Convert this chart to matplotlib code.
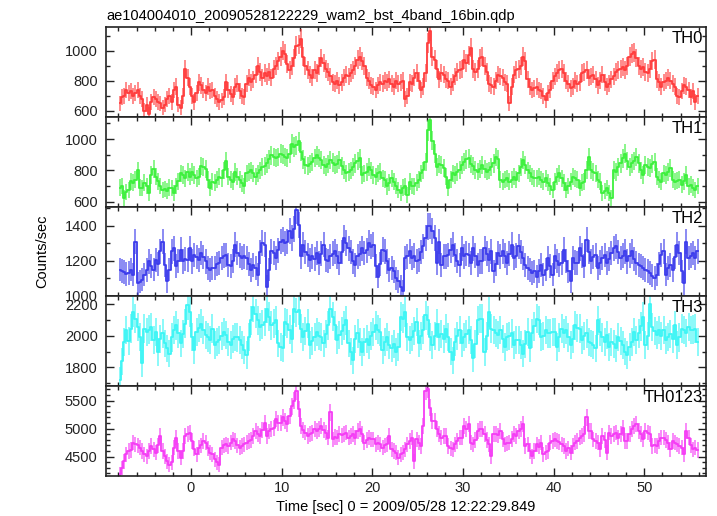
import numpy as np
import matplotlib
matplotlib.use("Agg")
import matplotlib.pyplot as plt
from matplotlib.ticker import MultipleLocator, FixedLocator

plt.rcParams['font.family'] = ['Liberation Sans', 'DejaVu Sans']

TITLE = "ae104004010_20090528122229_wam2_bst_4band_16bin.qdp"
XLABEL = "Time [sec] 0 = 2009/05/28 12:22:29.849"
YLABEL = "Counts/sec"
BANDS = ["TH0", "TH1", "TH2", "TH3", "TH0123"]
T_START = -7.875      # centre of first bin (s)
BIN = 0.25            # bin width (s)

th0 = [
    650, 690, 700, 740, 720, 730, 700, 720, 740, 700, 680, 600, 640, 580, 660, 690,
    680, 660, 650, 620, 640, 680, 700, 660, 740, 760, 640, 620, 700, 880, 820, 760,
    700, 660, 720, 790, 770, 740, 720, 760, 730, 740, 700, 680, 660, 670, 690, 790,
    740, 710, 690, 760, 780, 730, 700, 690, 780, 820, 790, 810, 840, 900, 860, 820,
    850, 830, 860, 820, 880, 900, 930, 960, 1000, 980, 910, 870, 900, 950, 1030, 1040,
    1080, 960, 900, 870, 840, 820, 870, 850, 900, 950, 920, 880, 860, 830, 790, 780,
    800, 770, 790, 820, 840, 830, 850, 870, 900, 940, 960, 930, 900, 820, 800, 770,
    760, 740, 770, 790, 780, 800, 790, 810, 780, 760, 800, 780, 790, 800, 680, 700,
    790, 780, 820, 850, 800, 740, 760, 850, 1050, 1130, 960, 940, 880, 810, 850, 840,
    810, 800, 760, 790, 830, 860, 870, 880, 940, 920, 970, 1020, 880, 860, 880, 950,
    960, 900, 860, 780, 770, 760, 800, 840, 830, 820, 790, 780, 650, 760, 840, 870,
    880, 900, 960, 930, 810, 760, 740, 750, 760, 740, 730, 700, 670, 720, 740, 800,
    830, 850, 870, 880, 850, 800, 780, 750, 760, 800, 780, 790, 850, 860, 870, 820,
    830, 840, 810, 770, 800, 840, 790, 760, 780, 810, 830, 860, 870, 880, 890, 870,
    900, 960, 980, 990, 950, 900, 880, 890, 860, 850, 880, 930, 940, 810, 790, 760,
    790, 800, 820, 800, 780, 760, 700, 690, 730, 770, 760, 740, 690, 730, 660, 700,
]

th1 = [
    690, 700, 625, 660, 676, 730, 720, 740, 800, 690, 686, 720, 700, 655, 770, 810,
    760, 730, 700, 676, 680, 670, 690, 686, 655, 700, 730, 780, 770, 750, 790, 760,
    790, 770, 750, 760, 830, 820, 810, 740, 690, 728, 720, 740, 760, 750, 800, 860,
    760, 740, 728, 790, 760, 740, 718, 700, 780, 790, 800, 780, 760, 781, 800, 823,
    830, 844, 870, 897, 886, 880, 886, 907, 900, 886, 880, 907, 970, 950, 960, 985,
    918, 870, 834, 830, 840, 855, 880, 897, 880, 865, 834, 820, 840, 865, 850, 834,
    840, 865, 830, 802, 781, 790, 800, 823, 844, 860, 876, 771, 780, 790, 823, 800,
    771, 760, 780, 792, 750, 740, 697, 720, 750, 728, 700, 676, 655, 690, 697, 640,
    728, 700, 697, 720, 740, 781, 800, 855, 1055, 1120, 990, 907, 823, 840, 834, 813,
    760, 686, 740, 781, 770, 790, 802, 834, 855, 870, 876, 840, 830, 802, 792, 810,
    834, 810, 792, 800, 823, 844, 886, 870, 739, 728, 740, 750, 728, 740, 760, 740,
    781, 820, 865, 834, 800, 781, 760, 750, 750, 760, 740, 728, 750, 720, 697, 676,
    728, 760, 781, 750, 720, 676, 700, 728, 760, 750, 740, 686, 720, 728, 802, 886,
    802, 790, 781, 740, 728, 655, 670, 686, 655, 623, 802, 790, 820, 844, 876, 907,
    860, 823, 844, 860, 886, 844, 800, 771, 834, 820, 813, 840, 855, 760, 740, 728,
    781, 771, 790, 813, 740, 728, 735, 740, 708, 730, 771, 697, 708, 690, 676, 700,
]

th2 = [
    1150, 1140, 1135, 1125, 1130, 1150, 1120, 1310, 1072, 1080, 1091, 1120, 1149, 1196, 1170, 1150,
    1206, 1180, 1253, 1310, 1177, 1082, 1150, 1253, 1272, 1168, 1200, 1263, 1196, 1210, 1206, 1272,
    1196, 1234, 1220, 1206, 1244, 1220, 1196, 1158, 1149, 1160, 1158, 1180, 1187, 1215, 1230, 1234,
    1177, 1168, 1200, 1291, 1244, 1230, 1215, 1225, 1215, 1180, 1149, 1177, 1160, 1120, 1250, 1301,
    1291, 1053, 1150, 1253, 1244, 1215, 1260, 1310, 1320, 1300, 1310, 1368, 1330, 1380, 1490, 1406,
    1225, 1291, 1250, 1234, 1206, 1225, 1210, 1244, 1187, 1240, 1291, 1206, 1200, 1225, 1240, 1253,
    1225, 1187, 1250, 1330, 1301, 1272, 1250, 1196, 1177, 1225, 1240, 1272, 1244, 1260, 1301, 1280,
    1291, 1168, 1110, 1180, 1263, 1253, 1196, 1149, 1160, 1139, 1100, 1082, 1053, 1025, 1215, 1225,
    1253, 1215, 1230, 1196, 1206, 1250, 1282, 1330, 1396, 1400, 1368, 1330, 1187, 1310, 1177, 1225,
    1225, 1234, 1260, 1291, 1234, 1200, 1177, 1272, 1225, 1240, 1234, 1187, 1272, 1230, 1177, 1196,
    1196, 1272, 1240, 1206, 1253, 1139, 1180, 1244, 1225, 1253, 1230, 1187, 1240, 1291, 1215, 1230,
    1282, 1250, 1215, 1177, 1160, 1149, 1130, 1139, 1110, 1140, 1177, 1120, 1150, 1215, 1170, 1120,
    1225, 1200, 1177, 1187, 1263, 1200, 1139, 1082, 1215, 1190, 1187, 1272, 1230, 1168, 1320, 1250,
    1196, 1220, 1234, 1158, 1190, 1215, 1234, 1187, 1210, 1244, 1272, 1282, 1250, 1215, 1230, 1253,
    1196, 1230, 1253, 1210, 1187, 1177, 1170, 1158, 1149, 1140, 1130, 1115, 1101, 1120, 1180, 1234,
    1253, 1120, 1160, 1177, 1149, 1220, 1291, 1244, 1139, 1072, 1310, 1215, 1230, 1244, 1215, 1253,
]

th3 = [
    1720, 1840, 1962, 2036, 1965, 2046, 2152, 2110, 2057, 1994, 1825, 2046, 2025, 2040, 2057, 1973,
    2025, 1899, 1980, 2015, 1952, 1920, 1888, 1990, 2036, 2067, 2015, 1952, 2010, 2078, 2194, 2152,
    1994, 1910, 2025, 2050, 2078, 2036, 2004, 1990, 1973, 2046, 1941, 1960, 1973, 2000, 2025, 2004,
    1960, 1941, 1983, 1994, 1990, 1973, 1941, 1910, 1878, 1994, 2100, 2183, 2141, 2100, 2057, 2070,
    2088, 2173, 2120, 2067, 2080, 2099, 1952, 1930, 1920, 2088, 2078, 2040, 1983, 2173, 2150, 2162,
    2046, 1994, 2030, 2078, 1941, 1970, 1994, 2025, 2000, 1994, 1952, 2010, 2067, 2173, 2120, 2067,
    1973, 2004, 2030, 2067, 2099, 1952, 1900, 1846, 1983, 2015, 1960, 1899, 1962, 1980, 1941, 2000,
    2025, 2067, 2040, 2025, 1910, 1960, 1994, 1941, 1920, 1950, 1899, 1931, 2120, 2110, 2152, 1994,
    1973, 1994, 2030, 2088, 1952, 2000, 2036, 2130, 2100, 1994, 1941, 2000, 2078, 1994, 2010, 1983,
    2046, 1994, 1900, 1846, 1962, 2000, 2036, 1952, 1994, 2010, 2036, 1973, 1857, 1950, 2099, 2110,
    2110, 1899, 2000, 2152, 2046, 2036, 2020, 2004, 2036, 1980, 1931, 1994, 2000, 2015, 1941, 1973,
    1973, 1941, 1888, 1950, 2025, 1920, 2015, 2060, 2110, 2099, 1994, 2000, 2036, 2015, 2015, 2025,
    2025, 1931, 1990, 2046, 2015, 2036, 1990, 1941, 1983, 2067, 2050, 2046, 1973, 2000, 2015, 1960,
    1952, 1940, 1920, 2099, 2025, 1990, 1962, 2004, 1931, 1962, 1950, 1920, 1994, 1970, 1941, 1900,
    1878, 1931, 1960, 2025, 1973, 2015, 2060, 2120, 1941, 2000, 2204, 2057, 2030, 2004, 2036, 2000,
    2036, 1973, 1994, 2010, 1983, 2067, 1941, 1990, 2046, 2036, 2020, 2057, 2036, 2040, 2046, 1962,
]

th0123 = [
    4185, 4300, 4420, 4540, 4600, 4620, 4750, 4720, 4700, 4660, 4600, 4540, 4510, 4600, 4690, 4630,
    4570, 4700, 4870, 4600, 4510, 4420, 4360, 4400, 4660, 4840, 4600, 4480, 4600, 4870, 4900, 4930,
    4780, 4640, 4540, 4660, 4700, 4780, 4750, 4650, 4570, 4540, 4450, 4400, 4360, 4660, 4700, 4720,
    4690, 4750, 4810, 4780, 4700, 4660, 4690, 4720, 4750, 4780, 4800, 4870, 4960, 4900, 4870, 4980,
    5110, 4870, 4950, 4990, 5020, 5170, 5100, 5110, 5200, 5140, 5080, 5230, 5400, 5500, 5670, 5350,
    5050, 4980, 4930, 4870, 4900, 4920, 4990, 4960, 5000, 5050, 4980, 4930, 4840, 5290, 4810, 4850,
    4840, 4900, 4880, 4900, 4930, 4840, 4870, 4900, 4840, 4960, 4990, 4900, 4750, 4800, 4840, 4810,
    4810, 4720, 4750, 4720, 4660, 4700, 4720, 4870, 4630, 4600, 4570, 4480, 4540, 4570, 4630, 4720,
    4780, 4840, 4420, 4810, 4750, 4690, 5050, 5670, 5700, 5375, 5140, 5140, 5000, 4900, 4840, 4870,
    4870, 4690, 4650, 4630, 4720, 4780, 4840, 4840, 5050, 5000, 5080, 4750, 4720, 4800, 4960, 4990,
    4990, 4900, 4800, 4720, 4510, 4900, 4900, 4880, 4960, 4810, 4720, 4740, 4750, 4820, 4900, 4870,
    4950, 4990, 5080, 4690, 4720, 4600, 4510, 4600, 4720, 4680, 4750, 4540, 4580, 4600, 4750, 4780,
    4810, 4780, 4760, 4720, 4690, 4600, 4650, 4570, 4690, 4750, 4780, 4840, 4870, 4900, 5200, 4960,
    4960, 4810, 4780, 4750, 4630, 4870, 4800, 4570, 4930, 4870, 4900, 4930, 4840, 4900, 5020, 4780,
    4780, 4900, 4990, 5050, 5080, 4960, 4900, 4810, 4960, 4930, 4900, 4690, 4700, 4690, 4780, 4840,
    4840, 4800, 4750, 4630, 4780, 4750, 4720, 4690, 4660, 4540, 4960, 4840, 4700, 4630, 4660, 4620,
]

series = [th0, th1, th2, th3, th0123]
colors = ["#ff3c3c", "#3cf03c", "#3c3cec", "#3cf5f5", "#f53cf5"]
ylims = [(558, 1155), (563, 1140), (997, 1505), (1680, 2251), (4155, 5757)]
yticks = [[600, 800, 1000], [600, 800, 1000], [1000, 1200, 1400],
          [1800, 2000, 2200], [4500, 5000, 5500]]
XLIM = (-9.37, 56.8)

W, H = 717, 516
fig = plt.figure(figsize=(W / 100, H / 100), dpi=100)
edges = [27.3, 117.2, 207.4, 296.3, 386.3, 476.0]
left, right = 106 / W, 706 / W

for i, (vals, col) in enumerate(zip(series, colors)):
    y = np.asarray(vals, dtype=float)
    t = T_START + BIN * np.arange(len(y))
    err = np.sqrt(y / BIN)
    bottom = 1 - edges[i + 1] / H
    height = (edges[i + 1] - edges[i]) / H
    ax = fig.add_axes([left, bottom, right - left, height])
    ax.errorbar(t, y, yerr=err, fmt='none', ecolor=col, elinewidth=1.4,
                alpha=0.6, capsize=0, zorder=2)
    ax.step(t, y, where='mid', color=col, lw=1.3, zorder=3)
    ax.set_xlim(*XLIM)
    ax.set_ylim(*ylims[i])
    ax.xaxis.set_major_locator(MultipleLocator(10))
    ax.xaxis.set_minor_locator(MultipleLocator(2))
    ax.yaxis.set_major_locator(FixedLocator(yticks[i]))
    ax.yaxis.set_minor_locator(MultipleLocator(100))
    ax.tick_params(which='both', direction='in', top=True, right=True,
                   colors='#222222', labelsize=10.5, width=1.0)
    ax.tick_params(which='major', length=6)
    ax.tick_params(which='minor', length=3)
    ax.tick_params(axis='y', pad=6)
    for s in ax.spines.values():
        s.set_linewidth(1.2)
        s.set_color('#222222')
    if i < 4:
        ax.tick_params(labelbottom=False)
    else:
        ax.set_xlabel(XLABEL, fontsize=10.5, labelpad=4)
    ax.text(0.995, 0.96, BANDS[i], transform=ax.transAxes, ha='right',
            va='top', fontsize=12, color='black')
    if i == 0:
        ax.set_title(TITLE, loc='left', fontsize=10.5, pad=5)

fig.text(42 / W, 1 - 251 / H, YLABEL, rotation=90, ha='center', va='center',
         fontsize=10.5)

fig.savefig("out.png", dpi=100)
